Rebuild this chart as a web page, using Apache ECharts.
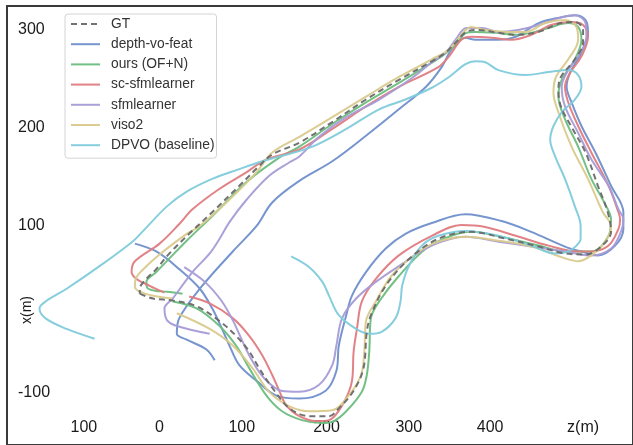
<!DOCTYPE html>
<html>
<head>
<meta charset="utf-8">
<script src="https://cdn.jsdelivr.net/npm/echarts@6/dist/echarts.min.js"></script>
<style>
html,body{margin:0;padding:0;background:#fff;}
#chart{width:633px;height:445px;}
</style>
</head>
<body>
<div id="chart"></div>
<script>
// ---- data (z in m along horizontal, x in m along vertical) ----
const seriesNames = ['GT','depth-vo-feat','ours (OF+N)','sc-sfmlearner','sfmlearner','viso2','DPVO (baseline)'];

const gtPath = [[-24,31],[-8,26],[16,24],[45,18],[73,3],[93,-12],[109,-28],[121,-45],[137,-65],[158,-86],[182,-94],[206,-94],[218,-86],[236,-68],[248,-45],[252,-8],[257,9],[275,39],[303,66],[339,87],[379,94],[421,87],[461,79],[493,72],[518,71],[537,79],[549,94],[545,114],[533,141],[518,175],[501,201],[488,222],[485,239],[488,252],[505,270],[515,287],[515,300],[505,308],[488,307],[461,298],[436,295],[412,297],[388,300],[373,298],[360,287],[348,277],[331,268],[291,249],[251,229],[210,206],[170,185],[137,173],[121,161],[97,141],[64,114],[36,92],[12,72],[-4,56],[-16,46],[-24,36],[-24,31]];

const depthVoFeat = [[-30,82],[-4,74],[24,56],[49,36],[64,16],[76,-5],[85,-22],[97,-42],[118,-58],[142,-73],[170,-76],[202,-68],[215,-48],[218,-22],[227,9],[234,29],[251,53],[275,77],[299,92],[331,103],[372,112],[416,105],[452,94],[493,79],[513,74],[533,70],[554,80],[564,97],[564,114],[549,141],[530,175],[513,202],[501,226],[495,242],[499,256],[513,277],[521,297],[518,310],[505,315],[489,313],[461,307],[433,293],[412,290],[384,290],[372,292],[355,280],[343,262],[324,242],[291,219],[251,192],[210,166],[170,146],[137,124],[118,100],[89,74],[49,36],[24,6],[21,-10],[33,-16],[57,-26],[67,-37]];

const oursOFN = [[16,23],[45,16],[73,-2],[93,-22],[109,-45],[130,-73],[149,-89],[173,-98],[198,-101],[212,-99],[227,-89],[246,-69],[252,-52],[255,-28],[257,6],[267,23],[291,49],[324,77],[355,90],[379,94],[421,88],[461,80],[493,74],[525,74],[546,90],[549,107],[542,122],[525,148],[509,181],[493,209],[485,232],[489,249],[505,270],[513,290],[509,303],[497,307],[473,302],[452,297],[433,295],[409,297],[384,298],[373,297],[360,285],[343,273],[291,246],[251,226],[210,204],[170,181],[146,170],[106,145],[64,110],[33,85],[12,67],[-4,53],[-16,43],[-15,37],[-6,34],[9,33],[28,31]];

const scSfmlearner = [[36,28],[61,21],[89,6],[109,-12],[125,-32],[137,-52],[146,-69],[154,-83],[170,-94],[190,-99],[206,-98],[222,-83],[234,-58],[236,-28],[240,-5],[246,23],[263,46],[291,70],[331,90],[367,101],[396,99],[433,90],[473,80],[509,74],[525,74],[546,80],[558,97],[560,107],[558,114],[546,141],[525,175],[509,202],[497,226],[493,242],[499,256],[513,273],[521,293],[515,305],[501,308],[476,305],[452,295],[428,290],[404,292],[379,293],[367,290],[352,273],[339,262],[291,242],[251,222],[210,199],[170,178],[130,168],[106,155],[73,138],[40,117],[24,102],[0,82],[-30,64],[-34,53],[-28,46],[-12,39],[6,32]];

const sfmlearner = [[30,58],[55,43],[75,24],[89,4],[101,-18],[113,-38],[127,-55],[148,-68],[170,-69],[194,-62],[210,-42],[215,-22],[222,6],[239,26],[263,43],[291,59],[331,80],[372,89],[412,84],[452,79],[493,74],[525,70],[549,77],[561,94],[564,107],[558,117],[546,141],[525,168],[509,195],[493,222],[489,242],[497,259],[512,277],[519,293],[518,307],[505,315],[489,313],[461,305],[436,300],[412,298],[392,302],[373,302],[360,290],[348,277],[331,267],[307,251],[267,229],[227,211],[194,191],[170,171],[158,165],[133,151],[106,127],[85,104],[73,87],[61,72],[40,53],[16,26],[6,16],[9,4],[21,-2],[61,-10]];

const viso2 = [[21,11],[61,-5],[89,-22],[113,-45],[133,-69],[158,-84],[182,-89],[210,-88],[230,-73],[245,-52],[249,-28],[251,3],[263,23],[282,49],[312,72],[339,84],[372,89],[412,85],[452,79],[493,67],[509,64],[525,70],[542,84],[549,100],[539,114],[521,148],[501,181],[485,216],[479,236],[482,252],[497,270],[509,290],[507,303],[493,310],[469,307],[445,298],[421,298],[396,300],[379,303],[370,298],[352,280],[331,270],[291,252],[251,232],[210,211],[170,191],[137,175],[118,155],[85,127],[49,100],[33,92],[0,71],[-16,59],[-29,46],[-30,38],[-24,33],[-9,29],[15,26]];

const dpvo = [[-79,-15],[-113,-5],[-139,6],[-146,16],[-137,24],[-113,36],[-73,59],[-33,84],[-21,94],[9,120],[33,135],[64,148],[97,158],[121,165],[146,171],[186,181],[227,199],[267,219],[299,229],[331,241],[352,252],[372,265],[384,268],[396,267],[412,259],[445,254],[473,257],[497,259],[509,254],[513,242],[505,229],[489,216],[479,202],[475,188],[481,171],[493,148],[505,120],[512,100],[512,87],[507,80],[497,74],[481,72],[452,80],[412,90],[372,95],[339,90],[319,80],[303,59],[295,39],[293,23],[287,6],[270,-8],[255,-10],[239,-5],[218,9],[206,29],[198,43],[182,58],[160,69]];

// tick labels as printed in the figure
const xTickValues = [-92, 0, 100, 203, 303, 402, 515];
const xTickLabels = ['100', '0', '100', '200', '300', '400', 'z(m)'];
const yTickValues = [300, 200, 100, -70];
const yTickLabels = ['300', '200', '100', '-100'];
const yAxisTitle = 'x(m)';

// ---- chart ----
const paths = [gtPath, depthVoFeat, oursOFN, scSfmlearner, sfmlearner, viso2, dpvo];
const colors = ['#6a6a6a', '#6f8fcc', '#6cbd7e', '#df7b80', '#a79bd6', '#d9ca8c', '#80cbdb'];

function labelFor(vals, labels) {
  return function (v) {
    let best = -1, bd = 1e9;
    for (let i = 0; i < vals.length; i++) {
      const d = Math.abs(vals[i] - v);
      if (d < bd) { bd = d; best = i; }
    }
    return bd < 0.5 ? labels[best] : '';
  };
}

const series = paths.map((p, i) => ({
  name: seriesNames[i],
  type: 'line',
  data: p,
  showSymbol: false,
  symbol: 'none',
  smooth: 0.35,
  z: i === 0 ? 10 : 2,
  color: colors[i],
  lineStyle: {
    width: 2,
    color: colors[i],
    type: i === 0 ? [6, 4] : 'solid',
    opacity: 0.95
  }
}));

const chart = echarts.init(document.getElementById('chart'), null, { renderer: 'canvas' });
chart.setOption({
  animation: false,
  backgroundColor: '#ffffff',
  textStyle: { fontFamily: 'Liberation Sans, Arial, sans-serif' },
  grid: {
    left: 7, top: 6, right: -2, bottom: -2,
    show: true, borderColor: '#3a3a3a', borderWidth: 2,
    backgroundColor: 'transparent', containLabel: false
  },
  xAxis: {
    type: 'value', min: -185.5, max: 575.7,
    axisLine: { show: false }, axisTick: { show: false }, splitLine: { show: false },
    axisLabel: {
      inside: true, margin: 17, verticalAlign: 'middle',
      customValues: xTickValues,
      formatter: labelFor(xTickValues, xTickLabels),
      fontSize: 16, color: '#1a1a1a', fontFamily: 'Liberation Sans, Arial, sans-serif'
    }
  },
  yAxis: {
    type: 'value', min: -123.4, max: 324.4,
    axisLine: { show: false }, axisTick: { show: false }, splitLine: { show: false },
    axisLabel: {
      inside: true, margin: 11, align: 'left', verticalAlign: 'middle',
      customValues: yTickValues,
      formatter: labelFor(yTickValues, yTickLabels),
      fontSize: 16, color: '#1a1a1a', fontFamily: 'Liberation Sans, Arial, sans-serif'
    }
  },
  legend: {
    data: seriesNames,
    orient: 'vertical',
    left: 65, top: 14,
    padding: [3, 2, 6, 5],
    itemWidth: 29, itemHeight: 14, itemGap: 6.2,
    itemStyle: { opacity: 0 },
    backgroundColor: 'rgba(255,255,255,0.9)',
    borderColor: '#d4d4d4', borderWidth: 1, borderRadius: 3,
    textStyle: { fontSize: 13.8, color: '#333', padding: [0, 0, 0, 6], fontFamily: 'Liberation Sans, Arial, sans-serif' }
  },
  graphic: [{
    type: 'text', x: 27, y: 310, rotation: Math.PI / 2,
    style: { text: yAxisTitle, fontSize: 14, fill: '#1a1a1a', align: 'center', verticalAlign: 'middle', fontFamily: 'Liberation Sans, Arial, sans-serif' }
  }],
  series: series
});
</script>
</body>
</html>
